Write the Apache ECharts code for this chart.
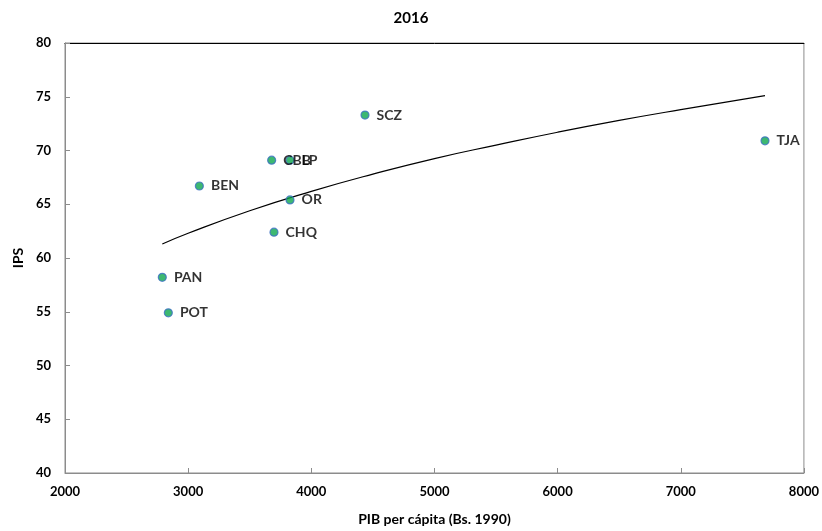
<!DOCTYPE html>
<html>
<head>
<meta charset="utf-8">
<script src="https://cdn.jsdelivr.net/npm/echarts@6/dist/echarts.min.js"></script>
<style>
  html, body { margin: 0; padding: 0; background: #fff; }
  #chart { width: 822px; height: 531px; }
</style>
</head>
<body>
<div id="chart"></div>
<script>
  // departamentos
  var names = ['PAN', 'POT', 'BEN', 'CBB', 'LP', 'OR', 'CHQ', 'SCZ', 'TJA'];
  var pib   = [2790, 2839, 3091, 3678, 3827, 3827, 3697, 4436, 7684];
  var ips   = [58.2, 54.9, 66.7, 69.1, 69.1, 65.4, 62.4, 73.3, 70.9];

  // tendencia
  var trendX = [2790, 3000, 3500, 4000, 4500, 5000, 5500, 6000, 6500, 7000, 7684];
  var trendY = [61.3, 62.3, 64.4, 66.2, 67.8, 69.25, 70.5, 71.7, 72.8, 73.8, 75.1];

  var font = 'Lato, "Open Sans", sans-serif';

  var myChart = echarts.init(document.getElementById('chart'));
  myChart.setOption({
    animation: false,
    title: {
      text: '2016',
      left: 'center',
      top: 6,
      textStyle: { fontFamily: font, fontSize: 15, fontWeight: 'bold', color: '#000' }
    },
    grid: { left: 65, right: 18, top: 43, bottom: 58, show: true, borderColor: '#8c8c8c', borderWidth: 1 },
    xAxis: [{
      type: 'value',
      min: 2000, max: 8000, interval: 1000,
      name: 'PIB per cápita (Bs. 1990)',
      nameLocation: 'middle',
      nameGap: 39,
      nameTextStyle: { fontFamily: font, fontSize: 14, fontWeight: 'bold', color: '#000' },
      axisLine: { show: true, lineStyle: { color: '#8c8c8c' } },
      axisTick: { show: true, inside: true, length: 5, lineStyle: { color: '#8c8c8c' } },
      axisLabel: { fontFamily: font, fontSize: 13, fontWeight: 'bold', color: '#000', margin: 12,
        formatter: function (v) { return String(v); } },
      splitLine: { show: false }
    }, {
      type: 'value', position: 'top',
      min: 2000, max: 8000,
      axisLine: { show: true, lineStyle: { color: '#000' } },
      axisTick: { show: false }, axisLabel: { show: false }, splitLine: { show: false }
    }],
    yAxis: {
      type: 'value',
      min: 40, max: 80, interval: 5,
      name: 'IPS',
      nameLocation: 'middle',
      nameGap: 40,
      nameTextStyle: { fontFamily: font, fontSize: 14, fontWeight: 'bold', color: '#000' },
      axisLine: { show: true, lineStyle: { color: '#8c8c8c' } },
      axisTick: { show: true, inside: true, length: 5, lineStyle: { color: '#8c8c8c' } },
      axisLabel: { fontFamily: font, fontSize: 13, fontWeight: 'bold', color: '#000', margin: 14 },
      splitLine: { show: false }
    },
    series: [
      {
        type: 'line',
        data: trendX.map(function (x, i) { return [x, trendY[i]]; }),
        showSymbol: false,
        smooth: true,
        lineStyle: { color: '#000', width: 1.2 },
        z: 1
      },
      {
        type: 'scatter',
        data: pib.map(function (x, i) { return { value: [x, ips[i]], name: names[i] }; }),
        symbolSize: 8,
        itemStyle: { color: '#0ca64e', borderColor: '#3f70c6', borderWidth: 1.2 },
        label: {
          show: true,
          position: 'right',
          distance: 7,
          formatter: '{b}',
          fontFamily: font, fontSize: 14, fontWeight: 'bold', color: '#000'
        },
        z: 2
      }
    ]
  });
</script>
</body>
</html>
